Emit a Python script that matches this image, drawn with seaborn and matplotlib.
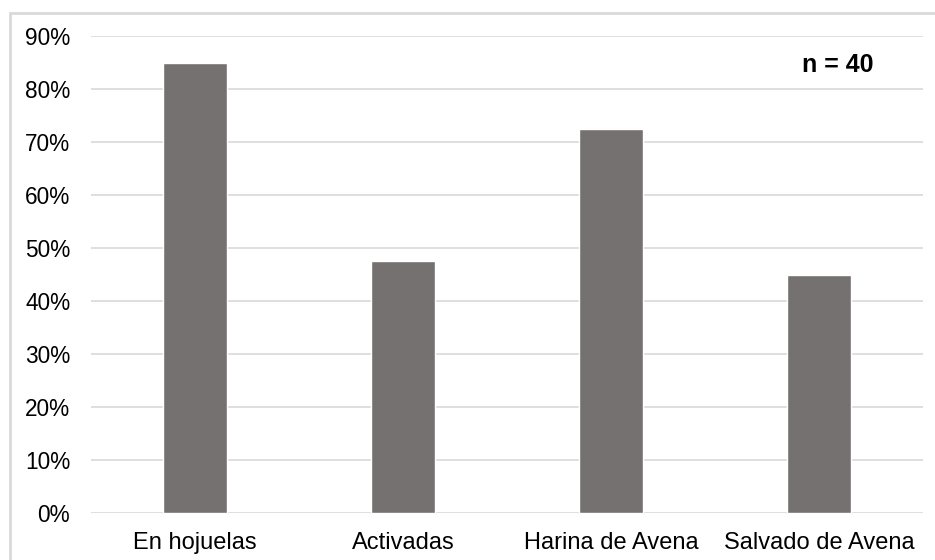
import matplotlib
matplotlib.use("Agg")
import matplotlib.pyplot as plt
import matplotlib.patches as mpatches
from matplotlib.ticker import PercentFormatter
import seaborn as sns
import pandas as pd

categories = ["En hojuelas", "Activadas", "Harina de Avena", "Salvado de Avena"]
shares = [0.85, 0.475, 0.725, 0.45]
sample_label = "n = 40"

sns.set_theme(style="white")
plt.rcParams["font.family"] = ["Liberation Sans", "DejaVu Sans"]

df = pd.DataFrame({"tipo": categories, "porcentaje": shares})

fig = plt.figure(figsize=(9.35, 5.6), dpi=100)
ax = fig.add_axes([91 / 935, 1 - 513 / 560, (923 - 91) / 935, (513 - 36) / 560])

# light outer frame around the chart area
frame = mpatches.Rectangle((10 / 935, -0.1), 1.2, 1 - 13 / 560 + 0.1,
                           transform=fig.transFigure, fill=False,
                           edgecolor="#d9d9d9", linewidth=2, zorder=0)
fig.patches.append(frame)

sns.barplot(data=df, x="tipo", y="porcentaje", color="#767171",
            saturation=1, width=0.31, ax=ax, zorder=3)

ax.set_ylim(0, 0.9)
ax.set_yticks([i / 10 for i in range(10)])
ax.yaxis.set_major_formatter(PercentFormatter(1.0, decimals=0))
ax.grid(axis="y", color="#d9d9d9", linewidth=1.2, zorder=0)
ax.set_axisbelow(True)
for s in ax.spines.values():
    s.set_visible(False)
ax.tick_params(axis="y", length=0, pad=15, labelsize=16.3, labelcolor="#000000")
ax.tick_params(axis="x", length=0, pad=14, labelsize=17, labelcolor="#000000")
ax.set_xlabel("")
ax.set_ylabel("")

ax.text(0.898, 0.939, sample_label, transform=ax.transAxes,
        ha="center", va="center", fontsize=18, fontweight="bold", color="#000000")

fig.savefig("out.png", dpi=100)
